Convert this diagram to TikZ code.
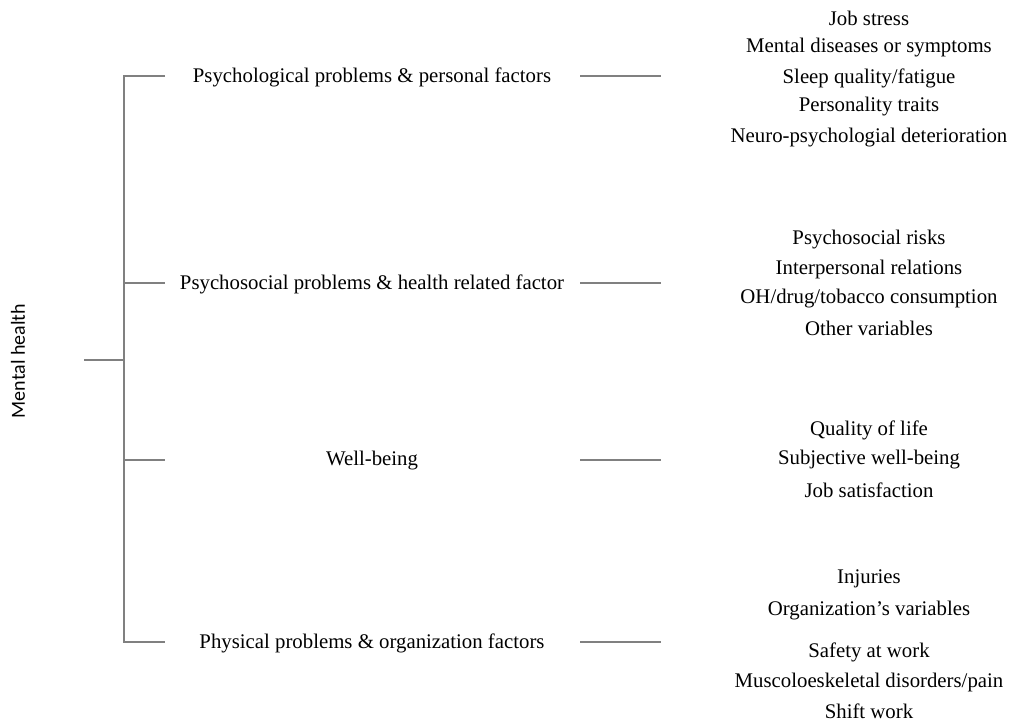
\documentclass[tikz,border=0pt]{standalone}
\usepackage{fontspec}
\setmainfont{Liberation Serif}
\newfontfamily\labelfont{Carlito}
\begin{document}
\begin{tikzpicture}[x=1pt,y=-1pt,
  txt/.style={font=\fontsize{20.8}{23}\selectfont, inner sep=0pt, anchor=center},
  conn/.style={draw=black!50, line width=2.8pt}]
\useasboundingbox (0,0) rectangle (1009,721);
% root
\node[font=\labelfont\fontsize{20}{22}\selectfont, rotate=90, inner sep=0pt] (root) at (18,361) {Mental health};
\coordinate (rs) at (84,360);
\coordinate (rj) at (124,360);
\coordinate (t1) at (124,76);
\coordinate (t2) at (124,283);
\coordinate (t3) at (124,460);
\coordinate (t4) at (124,642);
\coordinate (e1) at (165,76);
\coordinate (e2) at (165,283);
\coordinate (e3) at (165,460);
\coordinate (e4) at (165,642);
% categories
\node[txt] (c1) at (372,77) {Psychological problems \& personal factors};
\node[txt] (c2) at (372,284) {Psychosocial problems \& health related factor};
\node[txt] (c3) at (372,461) {Well-being};
\node[txt] (c4) at (372,643) {Physical problems \& organization factors};
% right connectors
\coordinate (a1) at (580,76); \coordinate (b1) at (661,76);
\coordinate (a2) at (580,283); \coordinate (b2) at (661,283);
\coordinate (a3) at (580,460); \coordinate (b3) at (661,460);
\coordinate (a4) at (580,642); \coordinate (b4) at (661,642);
\draw[conn] (rs) -- (rj);
\draw[conn] (e1) -- (t1) -- (t4) -- (e4);
\draw[conn] (t2) -- (e2);
\draw[conn] (t3) -- (e3);
\draw[conn] (a1) -- (b1);
\draw[conn] (a2) -- (b2);
\draw[conn] (a3) -- (b3);
\draw[conn] (a4) -- (b4);
% items
\node[txt] (i11) at (869,18) {Job stress};
\node[txt] (i12) at (869,48) {Mental diseases or symptoms};
\node[txt] (i13) at (869,78) {Sleep quality/fatigue};
\node[txt] (i14) at (869,107) {Personality traits};
\node[txt] (i15) at (869,138) {Neuro-psychologial deterioration};
\node[txt] (i21) at (869,240) {Psychosocial risks};
\node[txt] (i22) at (869,269) {Interpersonal relations};
\node[txt] (i23) at (869,299) {OH/drug/tobacco consumption};
\node[txt] (i24) at (869,328) {Other variables};
\node[txt] (i31) at (869,430) {Quality of life};
\node[txt] (i32) at (869,460) {Subjective well-being};
\node[txt] (i33) at (869,490) {Job satisfaction};
\node[txt] (i41) at (869,579) {Injuries};
\node[txt] (i42) at (869,611) {Organization’s variables};
\node[txt] (i43) at (869,652) {Safety at work};
\node[txt] (i44) at (869,682) {Muscoloeskeletal disorders/pain};
\node[txt] (i45) at (869,711) {Shift work};
\end{tikzpicture}
\end{document}
